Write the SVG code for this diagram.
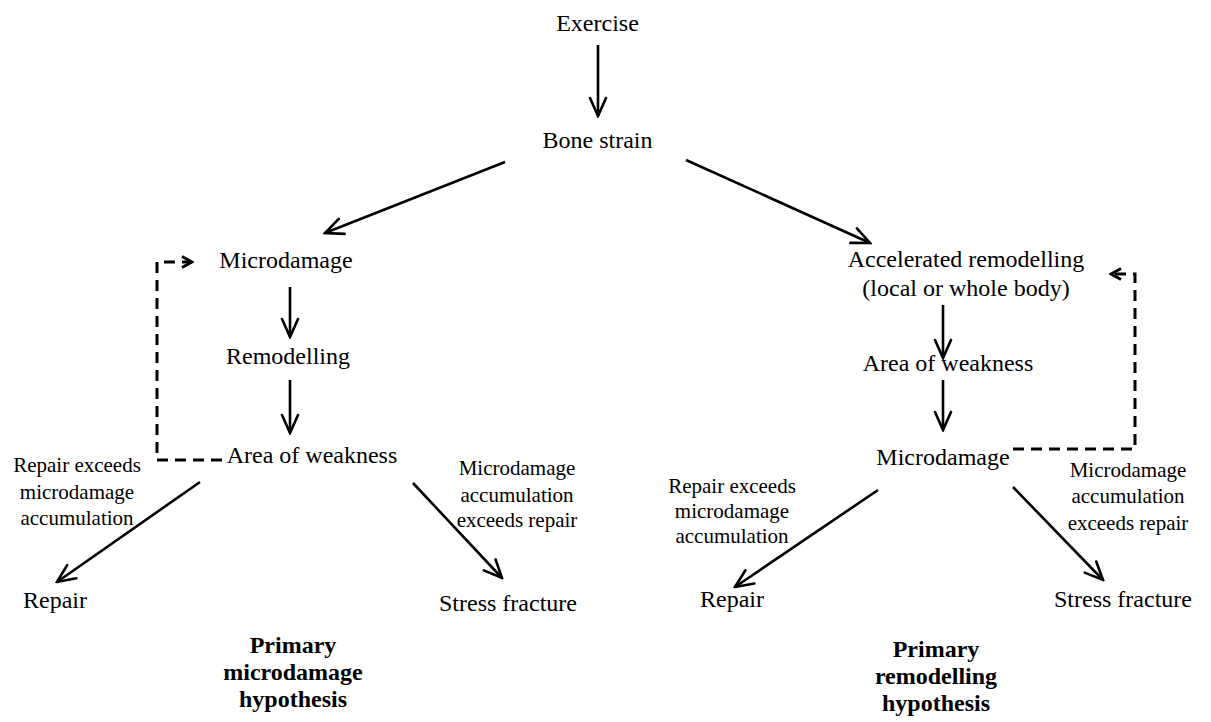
<svg xmlns="http://www.w3.org/2000/svg" width="1211" height="722" viewBox="0 0 1211 722">
<defs>
<marker id="ah" viewBox="-20 -10 22 20" refX="0" refY="0" markerWidth="22" markerHeight="20" markerUnits="userSpaceOnUse" orient="auto">
<path d="M-18,-8 L0,0 L-18,8" fill="none" stroke="#000" stroke-width="2.6" stroke-linecap="round"/>
</marker>
<marker id="ahs" viewBox="-14 -8 16 16" refX="0" refY="0" markerWidth="16" markerHeight="16" markerUnits="userSpaceOnUse" orient="auto">
<path d="M-10,-5.5 L0,0 L-10,5.5" fill="none" stroke="#000" stroke-width="3"/>
</marker>
</defs>
<style>
text{font-family:"Liberation Serif","Times New Roman",serif;fill:#000;text-anchor:middle}
.n{font-size:24px}
.l{font-size:21px}
.b{font-size:24px;font-weight:bold}
.c line{stroke:#000;stroke-width:2.6;fill:none;marker-end:url(#ah)}
.d{stroke:#000;stroke-width:3;fill:none;stroke-dasharray:11 7;marker-end:url(#ahs)}
</style>
<rect width="1211" height="722" fill="#fff"/>
<g id="connectors" class="c">
<line x1="598" y1="45" x2="598" y2="116"/>
<line x1="505" y1="162" x2="325" y2="233"/>
<line x1="686" y1="160" x2="870" y2="243"/>
<line x1="290" y1="287" x2="290" y2="337"/>
<line x1="290" y1="380" x2="290" y2="433"/>
<line x1="200" y1="482" x2="57" y2="582"/>
<line x1="413" y1="483" x2="502" y2="578"/>
<line x1="943" y1="305" x2="943" y2="358"/>
<line x1="943" y1="380" x2="943" y2="430"/>
<line x1="878" y1="490" x2="735" y2="587"/>
<line x1="1013" y1="487" x2="1103" y2="580"/>
<path class="d" d="M222,460 L157,460 L157,262 L192,262"/>
<path class="d" d="M1013,449 L1135,449 L1135,274 L1111,274"/>
</g>
<g id="n-exercise"><text class="n" x="597.5" y="31">Exercise</text></g>
<g id="n-bone"><text class="n" x="597.5" y="148">Bone strain</text></g>
<g id="n-micro-l"><text class="n" x="286" y="268">Microdamage</text></g>
<g id="n-remod-l"><text class="n" x="288" y="364">Remodelling</text></g>
<g id="n-area-l"><text class="n" x="312" y="463">Area of weakness</text></g>
<g id="n-repair-l"><text class="n" x="55" y="608">Repair</text></g>
<g id="n-stress-l"><text class="n" x="508" y="611">Stress fracture</text></g>
<g id="n-accel"><text class="n" x="966" y="267">Accelerated remodelling</text><text class="n" x="966" y="296">(local or whole body)</text></g>
<g id="n-area-r"><text class="n" x="948" y="371">Area of weakness</text></g>
<g id="n-micro-r"><text class="n" x="943" y="465">Microdamage</text></g>
<g id="n-repair-r"><text class="n" x="732" y="607">Repair</text></g>
<g id="n-stress-r"><text class="n" x="1123" y="607">Stress fracture</text></g>
<g id="lbl-repair-l"><text class="l" x="77" y="472">Repair exceeds</text><text class="l" x="77" y="498.5">microdamage</text><text class="l" x="77" y="525">accumulation</text></g>
<g id="lbl-stress-l"><text class="l" x="517" y="475">Microdamage</text><text class="l" x="517" y="501.5">accumulation</text><text class="l" x="517" y="527">exceeds repair</text></g>
<g id="lbl-repair-r"><text class="l" x="732" y="493">Repair exceeds</text><text class="l" x="732" y="518">microdamage</text><text class="l" x="732" y="543">accumulation</text></g>
<g id="lbl-stress-r"><text class="l" x="1128" y="477">Microdamage</text><text class="l" x="1128" y="503">accumulation</text><text class="l" x="1128" y="530">exceeds repair</text></g>
<g id="hyp-l"><text class="b" x="293" y="653">Primary</text><text class="b" x="293" y="680">microdamage</text><text class="b" x="293" y="707">hypothesis</text></g>
<g id="hyp-r"><text class="b" x="936" y="657">Primary</text><text class="b" x="936" y="684">remodelling</text><text class="b" x="936" y="711">hypothesis</text></g>
</svg>
